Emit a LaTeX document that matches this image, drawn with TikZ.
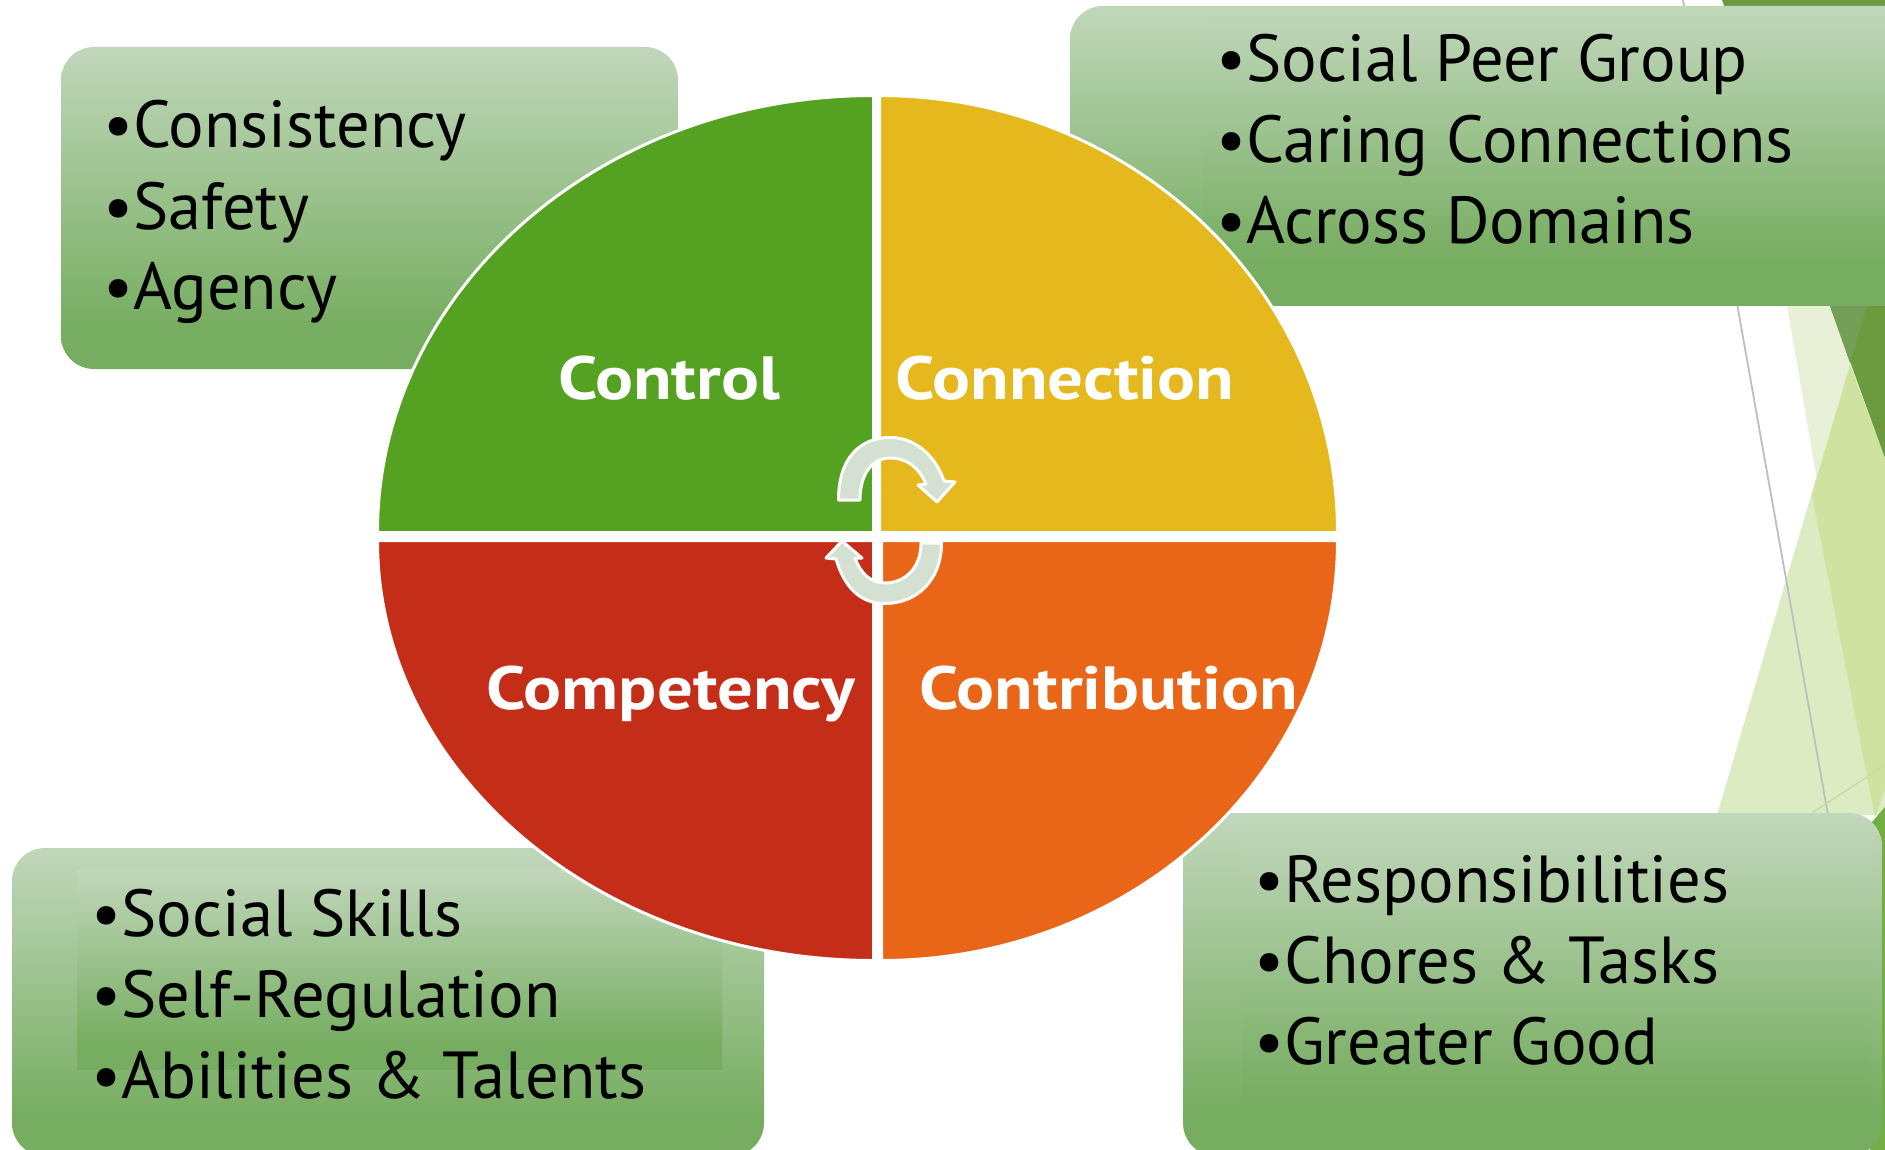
\documentclass[tikz,border=0pt]{standalone}
\usepackage{fontspec}
\setmainfont{PT Sans}
\newfontfamily\lblfont[FakeStretch=1.16]{PT Sans Bold}
\usetikzlibrary{calc}
\definecolor{gtop}{HTML}{C1D7BB}
\definecolor{gbot}{HTML}{76AD60}
\definecolor{qgreen}{HTML}{55A122}
\definecolor{qyellow}{HTML}{E5B91D}
\definecolor{qred}{HTML}{C42D17}
\definecolor{qorange}{HTML}{E96618}
\definecolor{arrowfill}{HTML}{D4E0D2}
\definecolor{bgmid}{HTML}{DDEBC3}
\definecolor{bglight}{HTML}{E8F1D8}
\definecolor{bgover}{HTML}{CFE29F}
\definecolor{bgdark}{HTML}{6B9A3F}
\definecolor{bgdull}{HTML}{73A056}
\definecolor{bggreen}{HTML}{74AD44}
\definecolor{linegray}{HTML}{BEBEBE}
\definecolor{linefaint}{HTML}{C8D8A8}
\pgfdeclareverticalshading{boxgrad}{100bp}{color(0bp)=(gbot); color(31bp)=(gbot); color(75bp)=(gtop); color(100bp)=(gtop)}
\tikzset{
  infobox/.style={rounded corners=33pt,shading=boxgrad},
  innerframe/.style={shading=boxgrad,opacity=#1},
  listtext/.style={anchor=base west,font=\fontsize{66.5}{81}\selectfont,align=left,text=black,inner sep=0pt},
  quadlabel/.style={anchor=base,font=\lblfont\fontsize{61}{61}\selectfont,text=white,inner sep=0pt},
  quad/.style={draw=white,line width=3pt},
  cyc/.style={fill=arrowfill,draw=white,line width=3pt,line join=round}
}
\begin{document}
\begin{tikzpicture}[x=1pt,y=-1pt]
\useasboundingbox (0,0) rectangle (1885,1150);
\begin{scope}
\clip (0,0) rectangle (1885,1150);
\fill[white] (0,0) rectangle (1885,1150);
% background
\fill[bgmid] (1717,815) -- (1850,363) -- (1885,245) -- (1885,815) -- cycle;
\fill[bglight] (1787,306) -- (1830,306) -- (1885,458) -- (1885,790) -- (1875,817) -- cycle;
\fill[bgover] (1812,495) -- (1817,477) -- (1850,365) -- (1885,458) -- (1885,790) -- (1875,817) -- cycle;
\fill[bgdark] (1722,0) -- (1885,0) -- (1885,458) -- (1830,306) -- cycle;
\fill[bgdull] (1830,306) -- (1867,306) -- (1850,363) -- cycle;
\fill[bggreen] (1872,822) -- (1885,807) -- (1885,1150) -- (1870,1150) -- cycle;
\draw[linegray,line width=1.8pt] (1683,0) -- (1828,815);
\draw[linefaint,line width=1.3pt] (1812,813) -- (1885,765);
% boxes
\path[infobox] (61,47) rectangle (678,369);
\path[infobox] (1070,6) rectangle (1918,306);
\path[infobox] (12,848) rectangle (764,1156);
\path[infobox] (1183,813) rectangle (1882,1156);
% inner text frames
\path[innerframe=1] (77,870) rectangle (722,1069);
\path[innerframe=0.35] (1241,837) rectangle (1871,1117);
\path[innerframe=0.35] (1202,20) rectangle (1885,280);
% quadrants
\path[quad,fill=qgreen] (873.5,532.5) -- (377.5,532.5) arc[start angle=180,end angle=270,x radius=496,y radius=437] -- cycle;
\path[quad,fill=qyellow] (879.5,532.5) -- (879.5,95.5) arc[start angle=270,end angle=360,x radius=458,y radius=437] -- cycle;
\path[quad,fill=qred] (873.5,540.5) -- (377.5,540.5) arc[start angle=180,end angle=90,x radius=496,y radius=420] -- cycle;
\path[quad,fill=qorange] (881.5,540.5) -- (1337.5,540.5) arc[start angle=0,end angle=90,x radius=456,y radius=420] -- cycle;
% labels
\node[quadlabel] (control) at (669,399) {Control};
\node[quadlabel] (connection) at (1065,399) {Connection};
\node[quadlabel] (competency) at (671,709) {Competency};
\node[quadlabel] (contribution) at (1109,709) {Contribution};
% cycle arrows
\path[cyc] (838.5,500) .. controls (838.5,457) and (861,437.5) .. (890,437.5) .. controls (916,437.5) and (936,457) .. (944,481) -- (955,482) -- (937,502) -- (918,485) -- (926,484) .. controls (918,466) and (906,458) .. (890,458) .. controls (873,458) and (860,473) .. (860,500) -- cycle;
\path[cyc] (941.5,543) .. controls (941.5,581) and (916,603.5) .. (885,603.5) .. controls (859,603.5) and (844,586) .. (836,559) -- (826,558) -- (842,541) -- (862,558) -- (855,558) .. controls (861,574) and (871,583) .. (885,583) .. controls (904,583) and (921,569) .. (921,543) -- cycle;
% lists
\node[listtext] (tl) at (103,310) {•Consistency\\•Safety\\•Agency};
\node[listtext] (tr) at (1216,244) {•Social Peer Group\\•Caring Connections\\•Across Domains};
\node[listtext] (bl) at (91,1098) {•Social Skills\\•Self-Regulation\\•Abilities \& Talents};
\node[listtext] (br) at (1254,1064) {•Responsibilities\\•Chores \& Tasks\\•Greater Good};
\end{scope}
\end{tikzpicture}
\end{document}
